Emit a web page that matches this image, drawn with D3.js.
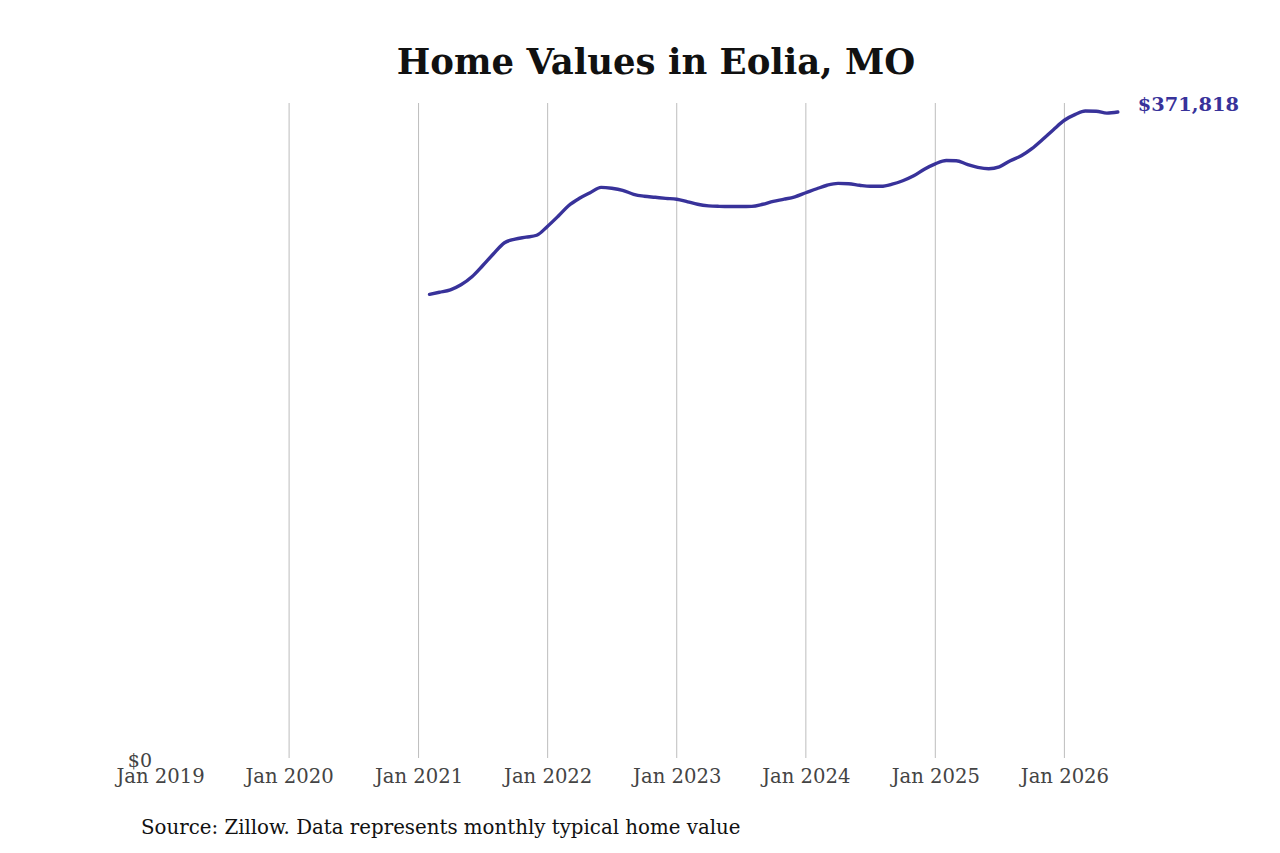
<!DOCTYPE html>
<html>
<head>
<meta charset="utf-8">
<script src="https://cdn.jsdelivr.net/npm/d3@7"></script>
<style>
  body { margin: 0; background: #fff; }
  svg text { font-family: "DejaVu Serif", serif; }
</style>
</head>
<body>
<svg width="1280" height="853"></svg>
<script>
// Monthly typical home value, Feb 2021 .. Jun 2026
const startMonth = "2021-02";
const values = [
  267200, 268400, 269800, 272700, 277300, 283600, 290500, 296800, 298900, 300000, 301100,
  306300, 312300, 318000, 322300, 325500, 328600, 328100, 326900, 324600, 323500, 322900, 322300,
  321800, 320300, 318900, 318000, 317700, 317600, 317600, 317700, 318900, 320600, 321800, 323200,
  325500, 327800, 329800, 330900, 330700, 329800, 329200, 329200, 330400, 332400, 335200, 339000,
  342100, 344000, 343900, 341800, 340100, 339300, 340400, 343900, 346700, 350800, 356200, 361700,
  367100, 370500, 372400, 372300, 371200, 371818
];
const tickYears = [2019, 2020, 2021, 2022, 2023, 2024, 2025, 2026];

const svg = d3.select("svg"),
      margin = {top: 103, right: 160, bottom: 93, left: 160},
      height = +svg.attr("height") - margin.top - margin.bottom;

const parseMonth = d3.timeParse("%Y-%m");
const t0 = parseMonth(startMonth);
const data = values.map((v, i) => ({date: d3.timeMonth.offset(t0, i), value: v}));

// about 129.2px per year
const x = d3.scaleTime()
  .domain([new Date(2019, 0, 1), new Date(2026, 0, 1)])
  .range([0, 129.2 * 7]);
const y = d3.scaleLinear().domain([0, 377000]).range([height, 0]);

const g = svg.append("g").attr("transform", `translate(${margin.left},${margin.top})`);

// Title
svg.append("text")
  .attr("x", 656)
  .attr("y", 74)
  .attr("text-anchor", "middle")
  .style("font-size", "35.5px")
  .style("font-weight", "bold")
  .style("fill", "#111")
  .text("Home Values in Eolia, MO");

// Vertical gridlines
const xTicks = tickYears.map(yr => new Date(yr, 0, 1));
g.selectAll(".grid")
  .data(xTicks.slice(1))
  .join("line")
    .attr("class", "grid")
    .attr("x1", d => x(d))
    .attr("x2", d => x(d))
    .attr("y1", 0)
    .attr("y2", height - 2)
    .attr("stroke", "#bdbdbd")
    .attr("stroke-width", 1);

// X axis
const xAxis = g.append("g")
  .attr("transform", `translate(0,${height})`)
  .call(d3.axisBottom(x).tickValues(xTicks).tickFormat(d3.timeFormat("Jan %Y")).tickSize(0).tickPadding(9));
xAxis.select(".domain").remove();
xAxis.selectAll("text").style("font-size", "19.6px").style("fill", "#444");

// Y axis (just $0)
const yAxis = g.append("g")
  .call(d3.axisLeft(y).tickValues([0]).tickFormat(d => "$" + d3.format(",")(d)).tickSize(0).tickPadding(8));
yAxis.select(".domain").remove();
yAxis.selectAll("text").style("font-size", "19px").style("fill", "#444");

// Line
const line = d3.line()
  .x(d => x(d.date))
  .y(d => y(d.value))
  .curve(d3.curveMonotoneX);

g.append("path")
  .datum(data)
  .attr("fill", "none")
  .attr("stroke", "#38329a")
  .attr("stroke-width", 3.4)
  .attr("stroke-linecap", "round")
  .attr("d", line);

// End label
const last = data[data.length - 1];
g.append("text")
  .attr("x", x(last.date) + 20)
  .attr("y", y(last.value) - 1)
  .style("font-size", "19.4px")
  .style("font-weight", "bold")
  .style("fill", "#38329a")
  .text("$" + d3.format(",")(last.value));

// Source
svg.append("text")
  .attr("x", 141)
  .attr("y", 834)
  .style("font-size", "19.8px")
  .style("fill", "#111")
  .text("Source: Zillow. Data represents monthly typical home value");
</script>
</body>
</html>
